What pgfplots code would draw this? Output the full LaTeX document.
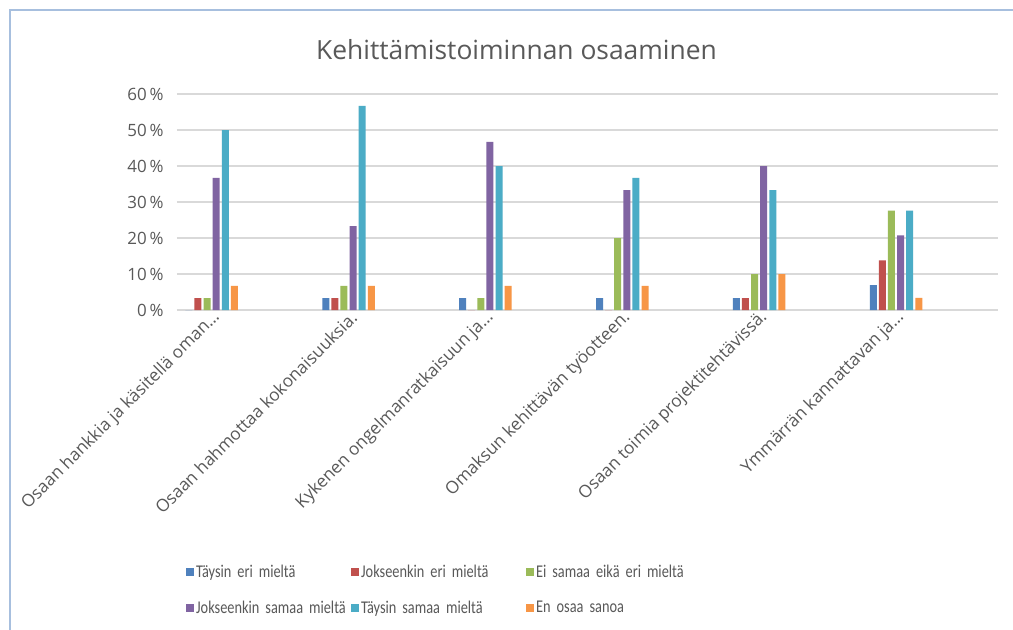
\documentclass[border=0pt]{standalone}
\usepackage{pgfplots}
\pgfplotsset{compat=1.18}
\usepackage{fontspec}
\setmainfont{Open Sans}
\newfontfamily\legfont[FakeStretch=0.8]{Carlito}
\definecolor{c1}{HTML}{4F81BD}
\definecolor{c2}{HTML}{C0504D}
\definecolor{c3}{HTML}{9BBB59}
\definecolor{c4}{HTML}{8064A2}
\definecolor{c5}{HTML}{4BACC6}
\definecolor{c6}{HTML}{F79646}
\definecolor{txt}{HTML}{595959}
\definecolor{gridc}{HTML}{D9D9D9}
\definecolor{framec}{HTML}{A7BFDE}
\begin{document}
\begin{tikzpicture}
\useasboundingbox (-177bp,-320bp) rectangle (836bp,310bp);
\fill[white] (-177bp,-320bp) rectangle (836bp,310bp);
\draw[framec, line width=2.5bp] (-167bp,-320bp) -- (-167bp,300bp) -- (836bp,300bp);
\begin{axis}[
  at={(0,0)}, anchor=south west, scale only axis,
  width=821bp, height=216bp,
  ymin=0, ymax=60, ytick={0,10,...,60},
  xmin=-0.253, xmax=5.745, xtick={0,1,2,3,4,5},
  xticklabels={{Osaan hankkia ja käsitellä oman…},{Osaan hahmottaa kokonaisuuksia.},{Kykenen ongelmanratkaisuun ja…},{Omaksun kehittävän työotteen.},{Osaan toimia projektitehtävissä.},{Ymmärrän kannattavan ja…}},
  ybar=2.1bp, bar width=7bp,
  axis line style={draw=none},
  ymajorgrids, grid style={gridc, line width=1.3bp},
  major tick length=0pt,
  /pgf/number format/assume math mode=true,
  yticklabel={\pgfmathprintnumber{\tick}\,\%},
  yticklabel style={font=\fontsize{17}{20}\selectfont, text=txt, xshift=-10bp},
  xticklabel style={font=\fontsize{17.3}{20}\selectfont, text=txt, rotate=45, anchor=east, yshift=-7bp, xshift=4bp},
  legend columns=3,
  legend style={at={(0.0073,-1.16)}, anchor=north west, draw=none, fill=none,
    font=\legfont\fontsize{18}{20}\selectfont, text=txt, row sep=18bp,
    /tikz/column 2/.style={text width=153bp},
    /tikz/column 4/.style={text width=163bp},
    /tikz/column 6/.style={text width=150bp}},
  legend cell align=left,
  legend image code/.code={\fill[#1] (0bp,-4bp) rectangle (8bp,4bp);},
]
\addplot[fill=c1, draw=none] coordinates {(0,0) (1,3.3) (2,3.3) (3,3.3) (4,3.3) (5,6.9)};
\addplot[fill=c2, draw=none] coordinates {(0,3.3) (1,3.3) (2,0) (3,0) (4,3.3) (5,13.8)};
\addplot[fill=c3, draw=none] coordinates {(0,3.3) (1,6.7) (2,3.3) (3,20) (4,10) (5,27.6)};
\addplot[fill=c4, draw=none] coordinates {(0,36.7) (1,23.3) (2,46.7) (3,33.3) (4,40) (5,20.7)};
\addplot[fill=c5, draw=none] coordinates {(0,50) (1,56.7) (2,40) (3,36.7) (4,33.3) (5,27.6)};
\addplot[fill=c6, draw=none] coordinates {(0,6.7) (1,6.7) (2,6.7) (3,6.7) (4,10) (5,3.4)};
\legend{Täysin eri mieltä,Jokseenkin eri mieltä,Ei samaa eikä eri mieltä,Jokseenkin samaa mieltä,Täysin samaa mieltä,En osaa sanoa}
\end{axis}
\node[font=\fontsize{26.5}{30}\selectfont, text=txt] at (339.5bp,260bp) {Kehittämistoiminnan osaaminen};
\end{tikzpicture}
\end{document}
